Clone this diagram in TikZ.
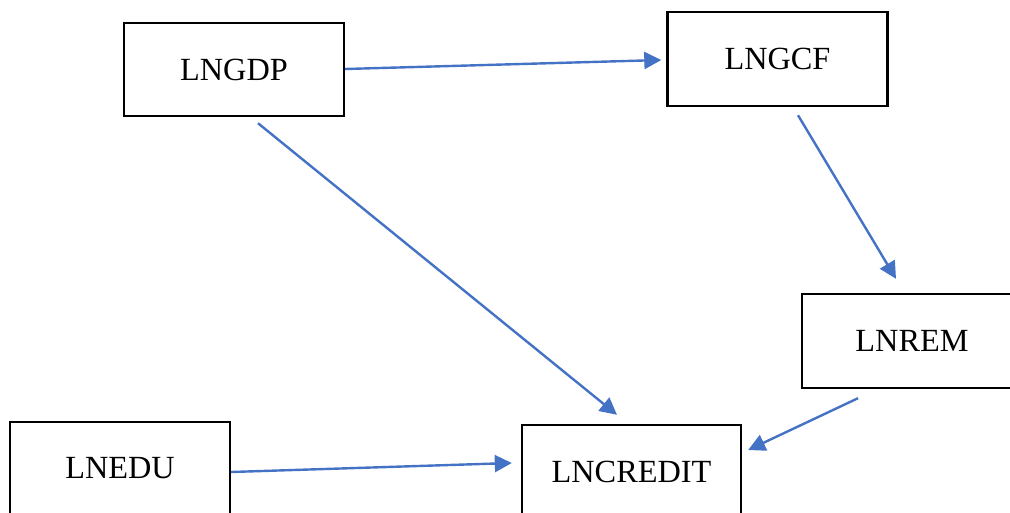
\documentclass[tikz,border=0pt]{standalone}
\usepackage{fontspec}
\setmainfont{Liberation Serif}
\usetikzlibrary{arrows.meta,calc}
\definecolor{arrblue}{HTML}{4472C4}
\tikzset{
  varbox/.style={draw=black, line width=2.4pt, minimum width=220pt, minimum height=93pt, inner sep=0pt, font=\fontsize{32.3}{38}\selectfont},
  link/.style={draw=arrblue, line width=2.4pt, -{Triangle[length=17pt,width=17pt]}}
}
\begin{document}
\begin{tikzpicture}[x=1pt,y=-1pt]
\useasboundingbox (0,0) rectangle (1010,512);
\clip (0,0) rectangle (1010,512);
\node[varbox] (gdp) at (234,69.5) {LNGDP};
\node[varbox, minimum height=94pt] (gcf) at (777.5,59) {LNGCF};
\node[varbox, minimum height=94pt] (rem) at (912,341) {LNREM};
\node[varbox, minimum height=92pt] (edu) at (120,468) {LNEDU};
\node[varbox, minimum width=219pt] (credit) at (631.5,471.5) {LNCREDIT};
\draw[link] ($(gdp.east)+(0,-0.5)$) -- ($(gcf.west)+(-5,1)$);
\draw[link] ($(gdp.south)+(24,6)$) -- ($(credit.north)+(-14.5,-9)$);
\draw[link] ($(gcf.south)+(20.5,8)$) -- ($(rem.north)+(-16,-14)$);
\draw[link] ($(rem.south)+(-54,9)$) -- ($(credit.east)+(6,-21.5)$);
\draw[link] ($(edu.east)+(0,4)$) -- ($(credit.west)+(-9,-8.5)$);
\end{tikzpicture}
\end{document}
